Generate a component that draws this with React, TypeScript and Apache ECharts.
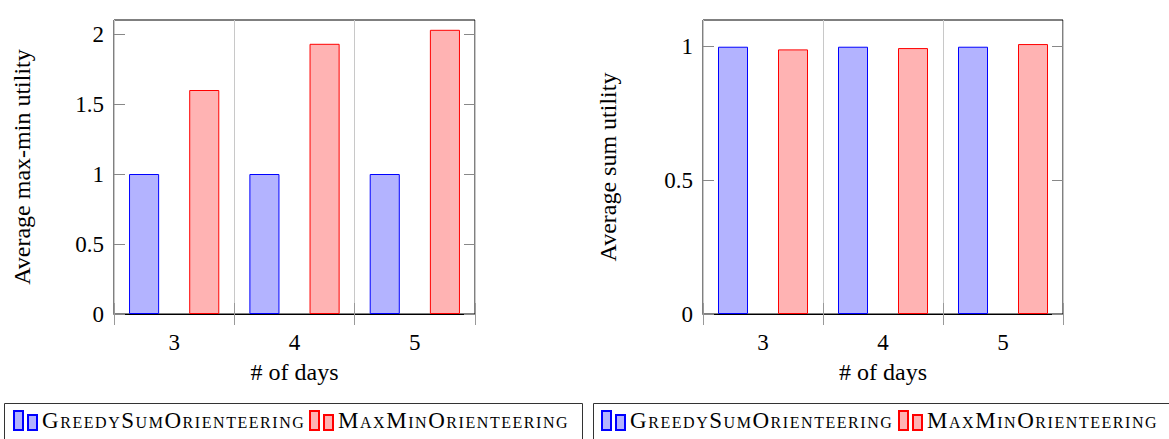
import React, { useEffect, useRef } from 'react';
import * as echarts from 'echarts';

const days = ['3', '4', '5'];
const seriesNames = ['GreedySumOrienteering', 'MaxMinOrienteering'];
const maxMinGreedy = [1, 1, 1];
const maxMinMaxMin = [1.6, 1.93, 2.03];
const sumGreedy = [1, 1, 1];
const sumMaxMin = [0.99, 0.995, 1.01];
const maxMinTicks = [0, 0.5, 1, 1.5, 2];
const sumTicks = [0, 0.5, 1];

const FONT = "'Liberation Serif', 'Times New Roman', serif";
const LEGEND_TEXT = '#010101';
const BLUE = { color: '#b3b3ff', borderColor: '#0000ff', borderWidth: 1 };
const RED = { color: '#ffb3b3', borderColor: '#ff0000', borderWidth: 1 };
const LEGEND_ICON = 'path://M0,0h9v19h-9z M14,4h9v15h-9z';

function xAxes(gridIndex: number) {
  return [
    {
      type: 'category', gridIndex, data: days, position: 'bottom', boundaryGap: true,
      axisLine: { show: true, lineStyle: { color: '#000', width: 1 } },
      axisTick: { show: true, inside: false, length: 11, lineStyle: { color: '#999' } },
      axisLabel: { margin: 17, fontSize: 23, color: '#000', fontFamily: FONT },
      splitLine: { show: true, lineStyle: { color: '#c8c8c8' } },
      name: '# of days', nameLocation: 'middle', nameGap: 46,
      nameTextStyle: { fontSize: 24, color: '#000', fontFamily: FONT },
    },
    {
      type: 'category', gridIndex, data: days, position: 'top', boundaryGap: true,
      axisLine: { show: false },
      axisTick: { show: true, inside: false, length: 11, lineStyle: { color: '#999' } },
      axisLabel: { show: false },
      splitLine: { show: false },
    },
  ];
}

function yAxes(gridIndex: number, max: number, ticks: number[], name: string, nameGap: number) {
  return [
    {
      type: 'value', gridIndex, position: 'left', min: 0, max,
      axisLine: { show: false },
      axisTick: { show: true, inside: true, length: 11, customValues: ticks, lineStyle: { color: '#888' } },
      axisLabel: { margin: 10, fontSize: 23, color: '#000', fontFamily: FONT, customValues: ticks },
      splitLine: { show: false },
      name, nameLocation: 'middle', nameRotate: 90, nameGap,
      nameTextStyle: { fontSize: 24, color: '#000', fontFamily: FONT },
    },
    {
      type: 'value', gridIndex, position: 'right', min: 0, max,
      axisLine: { show: false },
      axisTick: { show: true, inside: true, length: 11, customValues: ticks, lineStyle: { color: '#888' } },
      axisLabel: { show: false, customValues: ticks },
      splitLine: { show: false },
    },
  ];
}

function legendItem(name: string, left: number) {
  return {
    data: [name], left, top: 409, padding: 0, itemWidth: 23, itemHeight: 19,
    icon: LEGEND_ICON, selectedMode: false,
    textStyle: { fontSize: 23, color: LEGEND_TEXT, fontFamily: FONT, padding: [7, 0, 0, 0] },
  };
}

export default function App() {
  const ref = useRef<HTMLDivElement>(null);
  useEffect(() => {
    document.body.style.margin = '0';
    const style = document.createElement('style');
    style.textContent = `text[fill="${LEGEND_TEXT}"] { font-variant: small-caps !important; font-variant-caps: small-caps !important; letter-spacing: 1.55px !important; }`;
    document.head.appendChild(style);
    const chart = echarts.init(ref.current!, null, { renderer: 'svg' });
    const bar = (name: string, data: number[], xi: number, yi: number, itemStyle: any) => ({
      type: 'bar', name, data, xAxisIndex: xi, yAxisIndex: yi,
      barWidth: '25%', barGap: '100%', itemStyle,
    });
    chart.setOption({
      animation: false,
      backgroundColor: '#fff',
      textStyle: { fontFamily: FONT },
      grid: [
        { left: 114, top: 20, width: 361, height: 294, show: true, borderColor: '#000', borderWidth: 1, backgroundColor: 'transparent' },
        { left: 703, top: 20, width: 360, height: 294, show: true, borderColor: '#000', borderWidth: 1, backgroundColor: 'transparent' },
      ],
      xAxis: [...xAxes(0), ...xAxes(1)],
      yAxis: [
        ...yAxes(0, 2.1, maxMinTicks, 'Average max-min utility', 80),
        ...yAxes(1, 1.1, sumTicks, 'Average sum utility', 83),
      ],
      legend: [
        legendItem(seriesNames[0], 13),
        legendItem(seriesNames[1], 309),
        legendItem(seriesNames[0], 601),
        legendItem(seriesNames[1], 898),
      ],
      graphic: [
        { type: 'rect', shape: { x: 4.5, y: 403.5, width: 578, height: 60 }, style: { fill: 'none', stroke: '#333', lineWidth: 1 } },
        { type: 'rect', shape: { x: 593.5, y: 403.5, width: 600, height: 60 }, style: { fill: 'none', stroke: '#333', lineWidth: 1 } },
      ],
      series: [
        bar(seriesNames[0], maxMinGreedy, 0, 0, BLUE),
        bar(seriesNames[1], maxMinMaxMin, 0, 0, RED),
        bar(seriesNames[0], sumGreedy, 2, 2, BLUE),
        bar(seriesNames[1], sumMaxMin, 2, 2, RED),
      ],
    });
    return () => {
      chart.dispose();
      style.remove();
    };
  }, []);
  return <div ref={ref} style={{ width: 1169, height: 439 }} />;
}
